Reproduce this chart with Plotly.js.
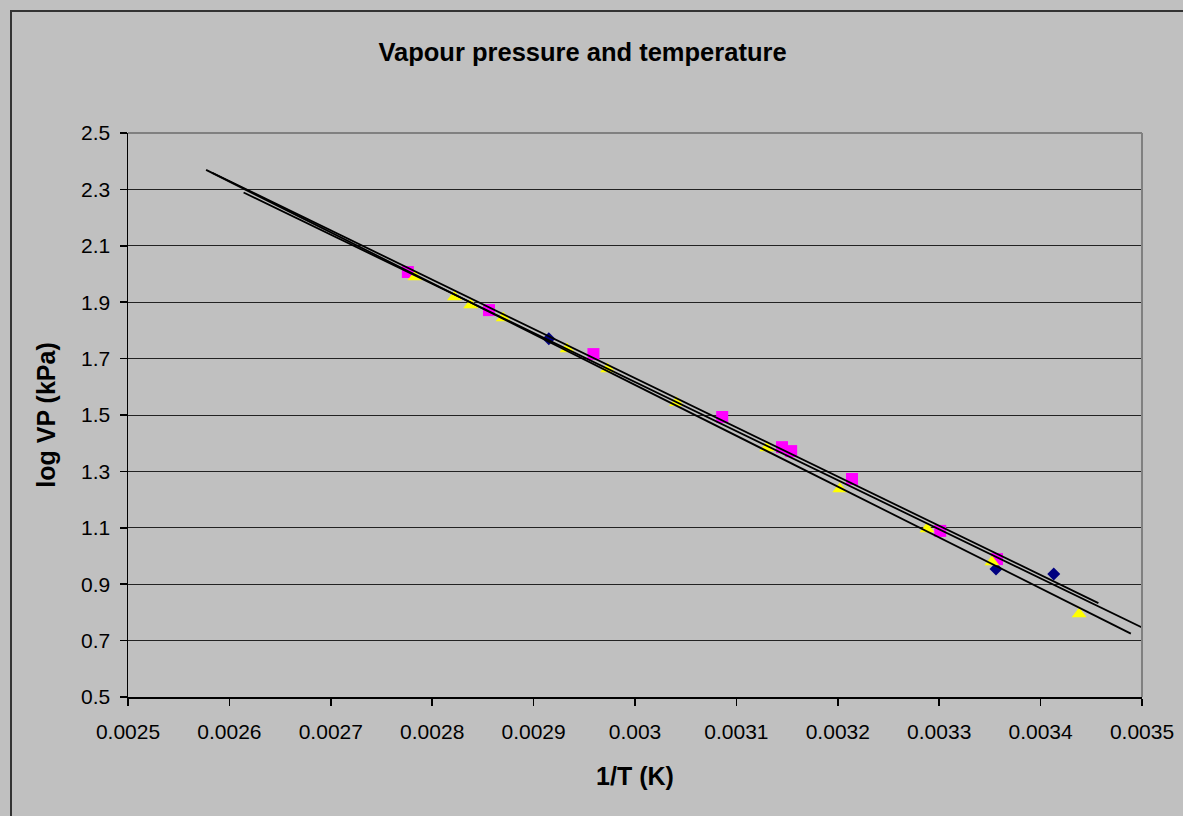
<!DOCTYPE html>
<html>
<head>
<meta charset="utf-8">
<script src="https://cdn.plot.ly/plotly-3.0.1.min.js"></script>
<style>
  html, body { margin: 0; padding: 0; overflow: hidden; background: #C0C0C0; }
  #wrap { position: relative; width: 1183px; height: 816px; }
  #chart { position: absolute; left: 0; top: 0; width: 1183px; height: 816px; }
  #frame { position: absolute; left: 10px; top: 10px; width: 1400px; height: 1000px;
           border-left: 2px solid #333333; border-top: 2px solid #333333; pointer-events: none; }
</style>
</head>
<body>
<div id="wrap">
  <div id="chart"></div>
  <div id="frame"></div>
</div>
<script>
// ---- Data ----
const blueX = [0.002915, 0.003356, 0.003413];
const blueY = [1.770, 0.954, 0.936];

const magentaX = [0.002776, 0.002856, 0.002959, 0.003086, 0.003145, 0.003154, 0.003214, 0.003301, 0.003357];
const magentaY = [2.007, 1.872, 1.716, 1.493, 1.386, 1.372, 1.273, 1.089, 0.989];

const yellowX = [0.002783, 0.002822, 0.002838, 0.002870, 0.002933, 0.002973, 0.003041, 0.003130, 0.003202, 0.003288, 0.003352, 0.003438];
const yellowY = [1.989, 1.918, 1.890, 1.844, 1.734, 1.663, 1.543, 1.383, 1.238, 1.096, 0.979, 0.794];

// Linear trendline extents (x range of each fitted line, incl. forecast)
const trendFrom = [0.002614, 0.002583, 0.002577]; // blue, magenta, yellow
const trendTo   = [0.003500, 0.003457, 0.003489];

const xTickVals = [0.0025, 0.0026, 0.0027, 0.0028, 0.0029, 0.003, 0.0031, 0.0032, 0.0033, 0.0034, 0.0035];
const xTickText = ["0.0025", "0.0026", "0.0027", "0.0028", "0.0029", "0.003", "0.0031", "0.0032", "0.0033", "0.0034", "0.0035"];
const yTickVals = [0.5, 0.7, 0.9, 1.1, 1.3, 1.5, 1.7, 1.9, 2.1, 2.3, 2.5];
const yTickText = ["0.5", "0.7", "0.9", "1.1", "1.3", "1.5", "1.7", "1.9", "2.1", "2.3", "2.5"];

// ---- Least squares fit ----
function fit(xs, ys) {
  const n = xs.length;
  const mx = xs.reduce((a, b) => a + b, 0) / n;
  const my = ys.reduce((a, b) => a + b, 0) / n;
  let sxy = 0, sxx = 0;
  for (let i = 0; i < n; i++) { sxy += (xs[i] - mx) * (ys[i] - my); sxx += (xs[i] - mx) ** 2; }
  const m = sxy / sxx;
  return { m: m, b: my - m * mx };
}
function trendTrace(xs, ys, i) {
  const f = fit(xs, ys);
  const tx = [trendFrom[i], trendTo[i]];
  return {
    x: tx, y: tx.map(v => f.m * v + f.b),
    mode: 'lines', type: 'scatter', showlegend: false, hoverinfo: 'skip',
    line: { color: '#000000', width: 1.8 }
  };
}

const FONT = '"Liberation Sans", Arial, sans-serif';

const traces = [
  { x: blueX, y: blueY, mode: 'markers', type: 'scatter', name: 'Series1',
    marker: { symbol: 'diamond', color: '#000080', size: 10, line: { width: 0 } } },
  { x: magentaX, y: magentaY, mode: 'markers', type: 'scatter', name: 'Series2',
    marker: { symbol: 'square', color: '#FF00FF', size: 12, line: { width: 0 } } },
  { x: yellowX, y: yellowY, mode: 'markers', type: 'scatter', name: 'Series3',
    marker: { symbol: 'triangle-up', color: '#FFFF00', size: 13, line: { width: 0 } } },
  trendTrace(blueX, blueY, 0),
  trendTrace(magentaX, magentaY, 1),
  trendTrace(yellowX, yellowY, 2)
];

const layout = {
  width: 1183, height: 816,
  paper_bgcolor: '#C0C0C0', plot_bgcolor: '#C0C0C0',
  margin: { l: 128, r: 41, t: 133, b: 119, pad: 0 },
  showlegend: false,
  font: { family: FONT, color: '#000000', size: 21 },
  title: {
    text: '<b>Vapour pressure and temperature</b>',
    font: { family: FONT, size: 25.5, color: '#000000' },
    xref: 'container', yref: 'container', x: 0.4924, y: 0.936,
    xanchor: 'center', yanchor: 'middle'
  },
  xaxis: {
    range: [0.0025, 0.0035], tickvals: xTickVals, ticktext: xTickText,
    showgrid: false, zeroline: false,
    showline: true, linecolor: '#000000', linewidth: 1.5,
    ticks: 'outside', ticklen: 7, tickwidth: 1.5, tickcolor: '#000000',
    ticklabelstandoff: 8,
    tickfont: { family: FONT, size: 21, color: '#000000' },
    title: { text: '<b>1/T (K)</b>', font: { family: FONT, size: 25, color: '#000000' }, standoff: 26 }
  },
  yaxis: {
    range: [0.5, 2.5], tickvals: yTickVals, ticktext: yTickText,
    showgrid: true, gridcolor: '#222222', gridwidth: 1, zeroline: false,
    showline: true, linecolor: '#000000', linewidth: 1.5,
    ticks: 'outside', ticklen: 7, tickwidth: 1.5, tickcolor: '#000000',
    ticklabelstandoff: 5,
    tickfont: { family: FONT, size: 21, color: '#000000' },
    title: { text: '<b>log VP (kPa)</b>', font: { family: FONT, size: 25, color: '#000000' }, standoff: 18 }
  },
  shapes: [
    { type: 'line', xref: 'paper', yref: 'paper', x0: 0, x1: 1, y0: 1, y1: 1,
      line: { color: '#808080', width: 2 }, layer: 'above' },
    { type: 'line', xref: 'paper', yref: 'paper', x0: 1, x1: 1, y0: 0, y1: 1,
      line: { color: '#808080', width: 2 }, layer: 'above' }
  ]
};

Plotly.newPlot('chart', traces, layout, { displayModeBar: false, staticPlot: true });
</script>
</body>
</html>
